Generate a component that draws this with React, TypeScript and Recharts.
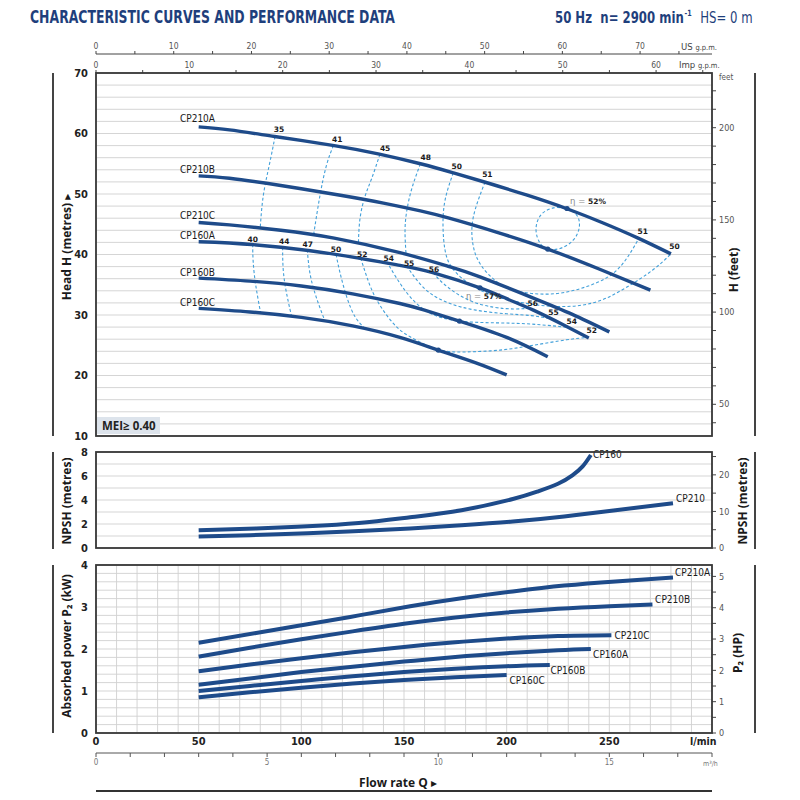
import React from 'react'
import { ComposedChart, Line, Scatter, XAxis, YAxis, CartesianGrid } from 'recharts'

const NARROW = "'Liberation Sans Narrow', 'Arial Narrow', 'DejaVu Sans Condensed', sans-serif"
const TITLE_FONT = "'Open Sans', 'DejaVu Sans', sans-serif"
const SMALL_BOLD = "'DejaVu Sans', Verdana, sans-serif"
const CURVE = '#1e4b8a'
const DASHED = '#42a0da'
const GRID = '#d0d0d0'
const FRAME = '#383838'
const HEAD = '#1f3f7c'

type P = [number, number]
type L = [number, number, string]

// Q (l/min) - H (m)
const qhCP210A: P[] = [[50, 61.1], [65, 60.6], [87, 59.5], [116, 58.0], [138, 56.6], [158, 55.0], [174, 53.5], [190, 51.9], [210, 49.8], [229, 47.6], [247, 45.2], [264, 42.7], [280, 40.1]]
const qhCP210B: P[] = [[50, 53.0], [65, 52.6], [90, 51.4], [119, 49.8], [140, 48.5], [158, 47.2], [172, 46.0], [195, 43.7], [220, 40.9], [245, 37.6], [270, 34.1]]
const qhCP210C: P[] = [[50, 45.3], [65, 44.9], [90, 44.0], [116, 42.7], [148, 40.3], [172, 38.0], [187, 36.3], [213, 32.8], [232, 30.1], [250, 27.2]]
const qhCP160A: P[] = [[50, 42.1], [65, 41.9], [90, 41.2], [119, 39.9], [148, 38.2], [164, 37.0], [187, 34.5], [200, 32.7], [213, 30.8], [228, 28.3], [240, 26.2]]
const qhCP160B: P[] = [[50, 36.1], [75, 35.6], [100, 34.8], [125, 33.5], [148, 31.9], [160, 30.8], [177, 29.0], [200, 26.3], [220, 23.1]]
const qhCP160C: P[] = [[50, 31.1], [75, 30.5], [100, 29.6], [125, 28.2], [148, 26.3], [166.7, 24.2], [185, 22.1], [200, 20.1]]

// efficiency iso-lines, CP210 family
const eta210_35: P[] = [[87.2, 59.5], [84.4, 54.8], [81.5, 49.8], [80.0, 44.5]]
const eta210_41: P[] = [[115.6, 58.0], [112.3, 54.8], [109.1, 49.8], [106, 43.3]]
const eta210_45: P[] = [[138.3, 56.6], [134.3, 52.6], [131, 49.6], [128.6, 46.0], [127.8, 42.0]]
const eta210_48: P[] = [[158, 55.0], [153.8, 50.9], [151.3, 47.1], [150.5, 43.8], [151, 40.0]]
const eta210_50: P[] = [[174, 53.5], [170, 49.0], [169, 44.6], [170, 40.7], [173, 38.0], [180, 35.6], [192, 33.4], [208, 32.0], [225, 31.4], [242, 32.0], [257, 34.3], [271, 37.4], [280, 40.1]]
const eta210_51: P[] = [[189.5, 52.0], [183.8, 46.25], [183.5, 41.85], [187, 38.5], [195.2, 35.5], [206.5, 33.85], [222.8, 33.5], [239, 34.7], [253.6, 37.4], [264.1, 42.5]]
const eta210_52: P[] = [[229.4, 47.6], [234.1, 46.5], [235.4, 44.6], [232.5, 42.4], [226, 41.0], [220, 40.9], [216.3, 41.85], [214.3, 44.05], [216.6, 46.5], [222.8, 47.7], [229.4, 47.6]]

// efficiency iso-lines, CP160 family
const eta160_40: P[] = [[76.3, 41.7], [76.6, 38.55], [77.9, 34.7], [80.2, 30.3]]
const eta160_44: P[] = [[90.9, 41.2], [91.2, 37.4], [92.8, 33.6], [95.3, 29.7]]
const eta160_47: P[] = [[102.9, 40.8], [104.2, 36.9], [107.2, 33.0], [111.5, 29.0]]
const eta160_50: P[] = [[116.9, 40.0], [118.9, 36.9], [122.1, 33.0], [126.2, 29.7], [131, 27.8]]
const eta160_52: P[] = [[128.9, 39.4], [131.9, 36.3], [136.7, 32.5], [144.8, 28.6], [153, 26.4], [166.7, 24.3], [180.6, 23.9], [196.8, 24.2], [213, 25.0], [229.2, 25.9], [239.5, 26.3]]
const eta160_54: P[] = [[141.6, 38.8], [146.4, 36.1], [153, 33.0], [162.7, 30.3], [177, 29.0], [195, 28.7], [212, 28.5], [230, 27.95]]
const eta160_55: P[] = [[151.3, 38.1], [156.2, 35.8], [162.7, 33.6], [172.4, 31.9], [185, 30.8], [200, 30.2], [212, 29.9], [221, 29.4]]
const eta160_56: P[] = [[164.3, 37.0], [169.2, 35.2], [180.6, 32.6], [193.5, 31.3], [203.3, 31.0], [211, 31.1]]

const bepDots: P[] = [[229.4, 47.6], [220, 40.9], [187, 34.5], [177, 29.0], [166.7, 24.2]]

const headNames: L[] = [[40.9, 62.4, 'CP210A'], [40.9, 54.1, 'CP210B'], [40.9, 46.5, 'CP210C'], [40.9, 43.1, 'CP160A'], [40.9, 37.05, 'CP160B'], [40.9, 32.1, 'CP160C']]
const eta210Labels: L[] = [[89.1, 60.6, '35'], [117.5, 59.1, '41'], [140.8, 57.55, '45'], [160.6, 56.0, '48'], [175.7, 54.6, '50'], [190.6, 53.25, '51'], [266.3, 43.8, '51'], [281.7, 41.3, '50']]
const eta160Labels: L[] = [[76.3, 42.5, '40'], [91.7, 42.1, '44'], [103.1, 41.7, '47'], [116.9, 40.85, '50'], [129.7, 40.1, '52'], [142.6, 39.3, '54'], [152.5, 38.55, '55'], [164.6, 37.55, '56'], [212.7, 31.9, '56'], [222.8, 30.4, '55'], [231.7, 29.0, '54'], [241.4, 27.4, '52']]
const etaMax: L[] = [[230.9, 48.85, '52%'], [180.2, 33.0, '57%']]

// NPSH (m)
const npshCP160: P[] = [[50, 1.47], [78, 1.63], [103, 1.81], [128, 2.08], [153, 2.56], [178, 3.15], [203, 4.08], [215, 4.7], [225, 5.35], [232, 6.05], [237, 6.8], [241, 7.75]]
const npshCP210: P[] = [[50, 0.96], [75, 1.07], [103, 1.23], [128, 1.41], [153, 1.63], [178, 1.9], [203, 2.21], [228, 2.63], [253, 3.15], [281, 3.73]]
const npshNames: L[] = [[242, 7.83, 'CP160'], [282.5, 4.14, 'CP210']]

// absorbed power P2 (kW)
const pCP210A: P[] = [[50, 2.15], [78, 2.38], [103, 2.59], [128, 2.8], [153, 3.02], [178, 3.21], [203, 3.37], [228, 3.51], [253, 3.61], [281, 3.7]]
const pCP210B: P[] = [[50, 1.82], [75, 2.03], [100, 2.23], [125, 2.42], [150, 2.6], [175, 2.75], [200, 2.87], [225, 2.96], [250, 3.02], [271, 3.06]]
const pCP210C: P[] = [[50, 1.47], [75, 1.63], [100, 1.78], [125, 1.92], [150, 2.05], [175, 2.16], [200, 2.25], [225, 2.31], [251, 2.33]]
const pCP160A: P[] = [[50, 1.15], [75, 1.3], [100, 1.45], [125, 1.58], [150, 1.7], [175, 1.81], [200, 1.9], [225, 1.97], [241, 2.0]]
const pCP160B: P[] = [[50, 1.0], [75, 1.12], [100, 1.24], [125, 1.35], [150, 1.45], [175, 1.53], [200, 1.59], [221, 1.62]]
const pCP160C: P[] = [[50, 0.85], [75, 0.97], [100, 1.08], [125, 1.18], [150, 1.26], [175, 1.33], [200, 1.38]]
const powerNames: L[] = [[282, 3.82, 'CP210A'], [272.3, 3.19, 'CP210B'], [252.5, 2.33, 'CP210C'], [242.1, 1.88, 'CP160A'], [221.3, 1.48, 'CP160B'], [201.4, 1.24, 'CP160C']]

// axis ticks
const range = (a: number, b: number, n: number) => Array.from({ length: n + 1 }, (_, i) => a + ((b - a) * i) / n)
const qTicks = range(0, 300, 30)
const hTicks = range(10, 70, 30)
const ftTicks = range(40, 220, 18)
const usTicks = range(0, 75, 15)
const impTicks = range(0, 65, 13)
const npshTicks = range(0, 8, 8)
const npshFtTicks = range(0, 25, 5)
const kwTicks = range(0, 4, 20)
const hpTicks = range(0, 5, 10)
const m3Ticks = range(0, 18, 18)

const US_MAX = 300 / 3.7854
const IMP_MAX = 300 / 4.5461
const FT = 0.3048
const HP_MAX = 4 / 0.7457

const pts = (a: P[]) => a.map(([q, v]) => ({ q, v }))
const lab = (a: L[]) => a.map(([q, v, t]) => ({ q, v, t }))
const every = (s: number) => (v: number) => Math.abs(v / s - Math.round(v / s)) < 1e-6

type TO = { anchor: 'start' | 'middle' | 'end'; size: number; weight?: number; color?: string; family?: string; dy?: string }
const tickLabel = (show: (v: number) => boolean, o: TO) => (p: any) => {
  const v = p.payload.value
  if (!show(v)) return <g />
  return (
    <text x={p.x} y={p.y} dy={o.dy ?? '0.35em'} textAnchor={o.anchor} fontSize={o.size}
      fontWeight={o.weight ?? 400} fill={o.color ?? '#222'} fontFamily={o.family ?? NARROW}>
      {Math.round(v * 100) / 100}
    </text>
  )
}

const textShape = (o: TO) => (p: any) => (
  <text x={p.cx} y={p.cy} dy={o.dy ?? '0.35em'} textAnchor={o.anchor} fontSize={o.size}
    fontWeight={o.weight ?? 400} fill={o.color ?? '#1a1a1a'} fontFamily={o.family ?? NARROW}>
    {p.payload.t}
  </text>
)

const etaShape = (p: any) => (
  <text x={p.cx} y={p.cy} dy="0.35em" fontSize={7.5} fontFamily={SMALL_BOLD}>
    <tspan fill="#888" fontSize={8.5}>η =</tspan>
    <tspan fill="#222" fontWeight={700}> {p.payload.t}</tspan>
  </text>
)

const dotShape = (p: any) => <circle cx={p.cx} cy={p.cy} r={2.6} fill={CURVE} />
const noShape = () => <g />

const curve = (a: P[], k: string, w = 3.4) => (
  <Line key={k} data={pts(a)} dataKey="v" type="natural" stroke={CURVE} strokeWidth={w}
    dot={false} activeDot={false} isAnimationActive={false} />
)
const iso = (a: P[], k: string) => (
  <Line key={k} data={pts(a)} dataKey="v" type="natural" stroke={DASHED} strokeWidth={1.1}
    strokeDasharray="3 2.2" dot={false} activeDot={false} isAnimationActive={false} />
)
// invisible points that tie a secondary axis to its own ticks
const anchor = (xId: string, yId: string | number, ticks: number[], v: number) => (
  <Scatter xAxisId={xId} yAxisId={yId} data={ticks.map((q) => ({ q, v }))} dataKey="v"
    shape={noShape} isAnimationActive={false} legendType="none" />
)

const qAxis = (
  <XAxis xAxisId={0} type="number" dataKey="q" domain={[0, 300]} ticks={qTicks} interval={0}
    height={0} tick={false} tickLine={false} axisLine={false} />
)

function HeadChart() {
  return (
    <ComposedChart width={800} height={446} margin={{ top: 35, right: 48, bottom: 10, left: 56 }}>
      <CartesianGrid stroke={GRID} strokeWidth={0.9} />
      {qAxis}
      <XAxis xAxisId="imp" orientation="top" type="number" dataKey="q" domain={[0, IMP_MAX]} ticks={impTicks} interval={0}
        allowDataOverflow height={19} axisLine={false} tickLine={{ stroke: '#444' }} tickSize={3} tickMargin={1}
        tick={tickLabel(every(10), { anchor: 'middle', size: 8.5, color: '#555', dy: '-0.1em' })} />
      <XAxis xAxisId="us" orientation="top" type="number" dataKey="q" domain={[0, US_MAX]} ticks={usTicks} interval={0}
        allowDataOverflow height={19} axisLine={{ stroke: '#444' }} tickLine={{ stroke: '#444' }} tickSize={3} tickMargin={1}
        tick={tickLabel(every(10), { anchor: 'middle', size: 8.5, color: '#555', dy: '-0.1em' })} />
      <YAxis yAxisId={0} type="number" dataKey="v" domain={[10, 70]} ticks={hTicks} interval={0} width={40}
        axisLine={false} tickLine={false} tickSize={3} tickMargin={5}
        tick={tickLabel(every(10), { anchor: 'end', size: 11, weight: 700 })} />
      <YAxis yAxisId="ft" orientation="right" type="number" domain={[10 / FT, 70 / FT]} ticks={ftTicks} interval={0}
        allowDataOverflow width={40} axisLine={false} tickLine={{ stroke: '#444' }} tickSize={4} tickMargin={3}
        tick={tickLabel(every(50), { anchor: 'start', size: 9, color: '#555' })} />
      {anchor('imp', 0, impTicks, 40)}
      {anchor('us', 0, usTicks, 40)}
      {[eta210_35, eta210_41, eta210_45, eta210_48, eta210_50, eta210_51, eta210_52].map((c, i) => iso(c, 'a' + i))}
      {[eta160_40, eta160_44, eta160_47, eta160_50, eta160_52, eta160_54, eta160_55, eta160_56].map((c, i) => iso(c, 'b' + i))}
      {[qhCP210A, qhCP210B, qhCP210C, qhCP160A, qhCP160B, qhCP160C].map((c, i) => curve(c, 'h' + i))}
      <Scatter data={pts(bepDots)} dataKey="v" shape={dotShape} isAnimationActive={false} />
      <Scatter data={lab(headNames)} dataKey="v" shape={textShape({ anchor: 'start', size: 10 })} isAnimationActive={false} />
      <Scatter data={lab([...eta210Labels, ...eta160Labels])} dataKey="v"
        shape={textShape({ anchor: 'middle', size: 7.5, weight: 700, family: SMALL_BOLD })} isAnimationActive={false} />
      <Scatter data={lab(etaMax)} dataKey="v" shape={etaShape} isAnimationActive={false} />
    </ComposedChart>
  )
}

function NpshChart() {
  return (
    <ComposedChart width={800} height={120} margin={{ top: 12, right: 48, bottom: 12, left: 56 }}>
      <CartesianGrid stroke={GRID} strokeWidth={0.9} />
      {qAxis}
      <YAxis yAxisId={0} type="number" dataKey="v" domain={[0, 8]} ticks={npshTicks} interval={0} width={40}
        axisLine={false} tickLine={false} tickSize={3} tickMargin={5}
        tick={tickLabel(every(2), { anchor: 'end', size: 11, weight: 700 })} />
      <YAxis yAxisId="ft" orientation="right" type="number" domain={[0, 8 / FT]} ticks={npshFtTicks} interval={0}
        allowDataOverflow width={40} axisLine={false} tickLine={{ stroke: '#444' }} tickSize={4} tickMargin={3}
        tick={tickLabel(every(10), { anchor: 'start', size: 9, color: '#555' })} />
      {curve(npshCP160, 'n0', 4)}
      {curve(npshCP210, 'n1', 4)}
      <Scatter data={lab(npshNames)} dataKey="v" shape={textShape({ anchor: 'start', size: 10 })} isAnimationActive={false} />
    </ComposedChart>
  )
}

function PowerChart() {
  return (
    <ComposedChart width={800} height={240} margin={{ top: 5, right: 48, bottom: 22, left: 56 }}>
      <CartesianGrid stroke={GRID} strokeWidth={0.9} />
      <XAxis xAxisId={0} type="number" dataKey="q" domain={[0, 300]} ticks={qTicks} interval={0}
        height={20} axisLine={false} tickLine={false} tickSize={0} tickMargin={3}
        tick={tickLabel((v) => every(50)(v) && v <= 250, { anchor: 'middle', size: 11, weight: 700, dy: '0.8em' })} />
      <XAxis xAxisId="m3" type="number" dataKey="q" domain={[0, 18]} ticks={m3Ticks} interval={0} allowDataOverflow height={25}
        axisLine={{ stroke: '#555' }} tickLine={{ stroke: '#555' }} tickSize={4} tickMargin={2}
        tick={tickLabel(every(5), { anchor: 'middle', size: 8, color: '#777', dy: '0.8em' })} />
      <YAxis yAxisId={0} type="number" dataKey="v" domain={[0, 4]} ticks={kwTicks} interval={0} width={40}
        axisLine={false} tickLine={false} tickSize={3} tickMargin={5}
        tick={tickLabel(every(1), { anchor: 'end', size: 11, weight: 700 })} />
      <YAxis yAxisId="hp" orientation="right" type="number" domain={[0, HP_MAX]} ticks={hpTicks} interval={0}
        allowDataOverflow width={40} axisLine={false} tickLine={{ stroke: '#444' }} tickSize={4} tickMargin={3}
        tick={tickLabel(every(1), { anchor: 'start', size: 9, color: '#555' })} />
      {anchor('m3', 0, m3Ticks, 1)}
      {[pCP210A, pCP210B, pCP210C, pCP160A, pCP160B, pCP160C].map((c, i) => curve(c, 'p' + i, 4))}
      <Scatter data={lab(powerNames)} dataKey="v" shape={textShape({ anchor: 'start', size: 10 })} isAnimationActive={false} />
    </ComposedChart>
  )
}

function Overlay() {
  const vline = (x: number, y1: number, y2: number) => (
    <line key={`${x}-${y1}`} x1={x} x2={x} y1={y1} y2={y2} stroke="#444" strokeWidth={2} />
  )
  const title = (x: number, y: number, t: React.ReactNode) => (
    <text transform={`translate(${x},${y}) rotate(-90)`} textAnchor="middle" dominantBaseline="central"
      fontFamily={TITLE_FONT} fontWeight={700} fontSize={12} fill="#1a1a1a">{t}</text>
  )
  return (
    <svg width={800} height={800} style={{ position: 'absolute', left: 0, top: 0, pointerEvents: 'none' }}>
      <text x={30} y={23} fontFamily={NARROW} fontWeight={700} fontSize={17} fill={HEAD}
        textLength={365} lengthAdjust="spacingAndGlyphs">
        CHARACTERISTIC CURVES AND PERFORMANCE DATA
      </text>
      <g transform="translate(555,23) scale(0.84,1)" fill={HEAD} fontFamily={NARROW}>
        <text x={0} y={0} fontWeight={700} fontSize={15.5}>50 Hz</text>
        <text x={54} y={0} fontWeight={700} fontSize={15.5}>
          n= 2900 min<tspan dx={1} dy={-7} fontSize={8.5}>-1</tspan>
        </text>
        <text x={173} y={0} fontSize={15.5}>HS= 0 m</text>
      </g>

      <rect x={96} y={73} width={616} height={363} fill="none" stroke={FRAME} strokeWidth={1.8} />
      <rect x={96} y={452} width={616} height={96} fill="none" stroke={FRAME} strokeWidth={1.8} />
      <rect x={96} y={565} width={616} height={168} fill="none" stroke={FRAME} strokeWidth={1.8} />

      {vline(53, 73, 436)}
      {vline(53, 452, 549)}
      {vline(53, 565, 733)}
      {vline(755, 73, 436)}
      {vline(755, 452, 549)}
      {vline(755, 565, 733)}
      <line x1={96} x2={712} y1={791} y2={791} stroke="#333" strokeWidth={2} />

      <text x={681} y={50} fontFamily={NARROW} fontSize={9.5} fill="#444">US <tspan fontSize={7.5}>g.p.m.</tspan></text>
      <text x={679} y={68} fontFamily={NARROW} fontSize={9.5} fill="#444">Imp <tspan fontSize={7.5}>g.p.m.</tspan></text>
      <text x={719} y={80} fontFamily={NARROW} fontSize={8} fill="#555">feet</text>
      <text x={690} y={745} fontFamily={NARROW} fontSize={10.5} fontWeight={700} fill="#222">l/min</text>
      <text x={703} y={766} fontFamily={NARROW} fontSize={7} fill="#777">m³/h</text>

      <rect x={97} y={417} width={63} height={17} fill="#dde4ec" />
      <text x={102} y={430} fontFamily={TITLE_FONT} fontWeight={700} fontSize={11.5} fill="#222">MEI≥ 0.40</text>

      {title(66, 247, 'Head H (metres) ▸')}
      {title(733, 270, 'H (feet)')}
      {title(66, 501, 'NPSH  (metres)')}
      {title(742, 501, 'NPSH  (metres)')}
      {title(66, 646, 'Absorbed power  P₂  (kW)')}
      {title(737, 653, 'P₂  (HP)')}
      <text x={398} y={787} textAnchor="middle" fontFamily={TITLE_FONT} fontWeight={700} fontSize={12} fill="#1a1a1a">
        Flow rate Q ▸
      </text>
    </svg>
  )
}

export default function App() {
  return (
    <div style={{ position: 'absolute', left: 0, top: 0, width: 800, height: 800, background: '#fff', overflow: 'hidden' }}>
      <div style={{ position: 'absolute', left: 0, top: 0 }}><HeadChart /></div>
      <div style={{ position: 'absolute', left: 0, top: 440 }}><NpshChart /></div>
      <div style={{ position: 'absolute', left: 0, top: 560 }}><PowerChart /></div>
      <Overlay />
    </div>
  )
}
